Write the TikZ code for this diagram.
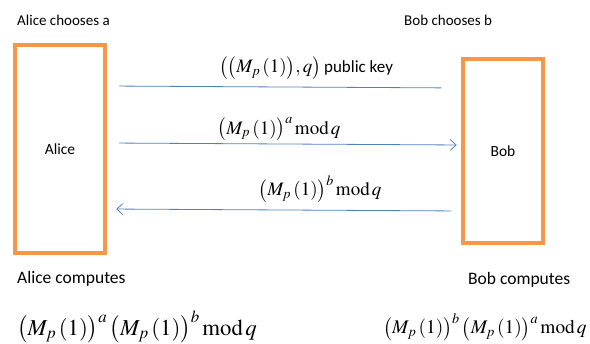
\documentclass[tikz,border=0pt]{standalone}
\usepackage{mathptmx}
\usepackage{fontspec}
\setmainfont{Carlito}
\usepackage{tikz}
\usetikzlibrary{positioning}
\usetikzlibrary{arrows.meta}

\definecolor{boxorange}{RGB}{247,150,70}
\definecolor{msgblue}{RGB}{79,129,189}
\newcommand{\Mpone}{\big(M_p\,(1)\big)}
\newcommand{\modq}{\,\mathrm{mod}\,q}

\begin{document}
\begin{tikzpicture}[x=1pt,y=-1pt,>={Straight Barb[length=6pt,width=11pt]},
  party/.style={draw=boxorange,line width=3.5pt,inner sep=0pt,font=\fontsize{15.5}{18}\selectfont},
  caption/.style={anchor=west,inner sep=0pt,font=\fontsize{15}{18}\selectfont},
  formula/.style={inner sep=0pt,font=\fontsize{19}{22}\selectfont},
  msg/.style={draw=msgblue,line width=0.8pt}]
  \useasboundingbox (0,0) rectangle (590,344);

  \node at (60,149) [party,minimum width=90pt,minimum height=208pt] (alice) {Alice};
  \node at (503,151) [party,minimum width=80pt,minimum height=184pt] (bob) {Bob};

  \node at (17,20) [caption] (alicechooses) {Alice chooses a};
  \node at (404,20) [caption] (bobchooses) {Bob chooses b};
  \node at (17,279) [caption,font=\fontsize{17.5}{20}\selectfont] (alicecomputes) {Alice computes};
  \node at (468,280) [caption,font=\fontsize{17.5}{20}\selectfont] (bobcomputes) {Bob computes};

  \node at (306,68) [formula] (pubkey) {$\big(\Mpone,q\big)$\,{\fontsize{17}{20}\selectfont public key}};
  \node at (279,129) [formula] (sendA) {$\Mpone^a \modq$};
  \node at (320,189) [formula] (sendB) {$\Mpone^b \modq$};

  \node at (137,327) [formula,font=\fontsize{22.8}{26}\selectfont] (keyA) {$\Mpone^a\,\Mpone^b \modq$};
  \node at (485,327) [formula,font=\fontsize{19.3}{22}\selectfont] (keyB) {$\Mpone^b\,\Mpone^a \modq$};

  \draw[msg, shorten <=12.5pt, shorten >=20pt] ([yshift=63pt]alice.east) -- ([yshift=63pt]bob.west);
  \draw[msg, ->, shorten <=12.5pt, shorten >=4.5pt] ([yshift=6pt]alice.east) -- ([yshift=6pt]bob.west);
  \draw[msg, ->, shorten <=10pt, shorten >=9.5pt] ([yshift=-60pt]bob.west) -- ([yshift=-60pt]alice.east);
\end{tikzpicture}
\end{document}
